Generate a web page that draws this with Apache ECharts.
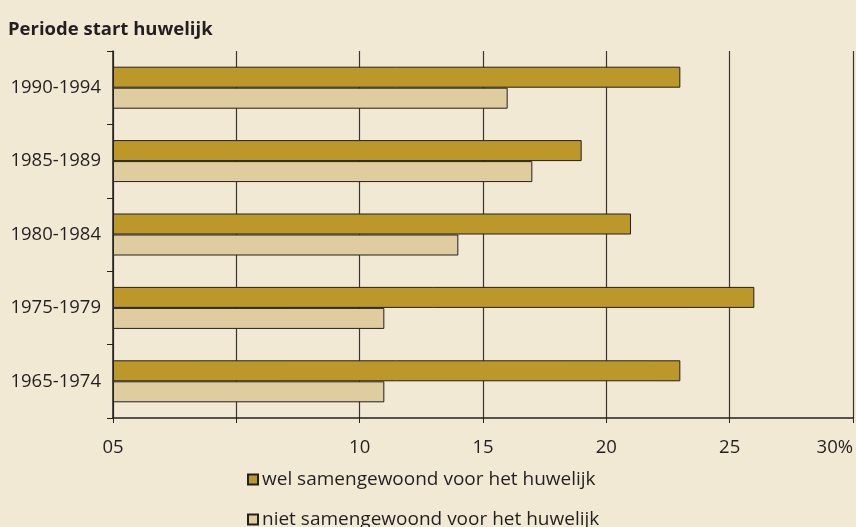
<!DOCTYPE html>
<html>
<head>
<meta charset="utf-8">
<script src="https://cdn.jsdelivr.net/npm/echarts@6/dist/echarts.min.js"></script>
<style>
  html, body { margin: 0; padding: 0; background: #f2e9d5; }
  #main { width: 856px; height: 527px; }
</style>
</head>
<body>
<div id="main"></div>
<script>
// periodes (van boven naar beneden)
var periodes = ['1990-1994', '1985-1989', '1980-1984', '1975-1979', '1965-1974'];
var welSamen = [23, 19, 21, 26, 23];
var nietSamen = [16, 17, 14, 11, 11];
var serieNamen = ['wel samengewoond voor het huwelijk', 'niet samengewoond voor het huwelijk'];

var fontNaam = 'Open Sans';

// één legenda per regel, zodat onderaan niets omslaat
function legenda(naam, boven) {
    return {
        orient: 'vertical',
        left: 247,
        top: boven,
        padding: 0,
        itemWidth: 10,
        itemHeight: 10,
        icon: 'rect',
        textStyle: { fontFamily: fontNaam, fontSize: 19, color: '#231f20', padding: [0, 0, 0, -1] },
        data: [naam]
    };
}

var chart = echarts.init(document.getElementById('main'));
var option = {
    backgroundColor: '#f2e9d5',
    animation: false,
    title: {
        text: 'Periode start huwelijk',
        left: 3,
        top: 15,
        textStyle: { fontFamily: fontNaam, fontSize: 18.5, fontWeight: 'bold', color: '#231f20' }
    },
    legend: [legenda(serieNamen[0], 470), legenda(serieNamen[1], 510)],
    grid: { left: 113, right: 1, top: 51, bottom: 109 },
    xAxis: {
        type: 'value',
        min: 0,
        max: 30,
        interval: 5,
        axisLine: { show: true, lineStyle: { color: '#231f20', width: 1.5 } },
        axisTick: { show: true, length: 5, lineStyle: { color: '#231f20' } },
        splitLine: { show: true, lineStyle: { color: '#3a3535', width: 1.2 } },
        axisLabel: {
            margin: 20,
            fontFamily: fontNaam,
            fontSize: 18.5,
            color: '#231f20',
            alignMaxLabel: 'right',
            formatter: function (v) {
                if (v === 0) return '05';
                if (v === 5) return '';
                if (v === 30) return '30%';
                return String(v);
            }
        }
    },
    yAxis: {
        type: 'category',
        data: periodes,
        inverse: true,
        axisLine: { show: true, lineStyle: { color: '#231f20', width: 1.5 } },
        axisTick: { show: true, length: 6, lineStyle: { color: '#231f20' } },
        axisLabel: { margin: 12, fontFamily: fontNaam, fontSize: 18.5, color: '#231f20' }
    },
    series: [
        {
            name: serieNamen[0],
            type: 'bar',
            data: welSamen,
            barWidth: 21,
            barGap: '0%',
            itemStyle: { color: '#bc982b', borderColor: '#231f20', borderWidth: 1 }
        },
        {
            name: serieNamen[1],
            type: 'bar',
            data: nietSamen,
            barWidth: 21,
            itemStyle: { color: '#e0cd9f', borderColor: '#231f20', borderWidth: 1 }
        }
    ]
};
chart.setOption(option);
</script>
</body>
</html>
